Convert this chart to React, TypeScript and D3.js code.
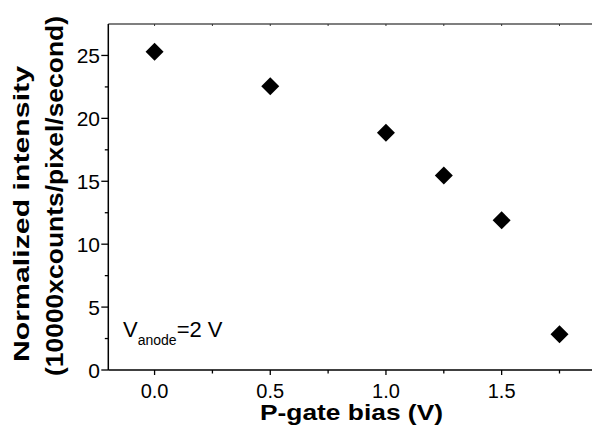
import React from "react";
import * as d3 from "d3";

const biasValues = [0, 0.5, 1.0, 1.25, 1.5, 1.75];
const intensityValues = [25.3, 22.55, 18.85, 15.45, 11.9, 2.85];
const xMajorTicks = [0, 0.5, 1.0, 1.5];
const xMinorTicks = [-0.25, 0.25, 0.75, 1.25, 1.75];
const yMajorTicks = [0, 5, 10, 15, 20, 25];
const yMinorTicks = [2.5, 7.5, 12.5, 17.5, 22.5];
const xTickLabels = ["0.0", "0.5", "1.0", "1.5"];
const yTickLabels = ["0", "5", "10", "15", "20", "25"];

const W = 592;
const H = 427;
const FONT = "'Liberation Sans', Arial, sans-serif";

export default function App() {
  const x = d3.scaleLinear().domain([-0.2, 1.9]).range([108.3, 594.2]);
  const y = d3.scaleLinear().domain([0, 27.5]).range([370, 24]);
  const marker = d3.symbol(d3.symbolSquare, 162)() as string;
  const [x0, x1] = x.range();
  const [yb, yt] = y.range();

  return (
    <svg width={W} height={H} style={{ position: "absolute", left: 0, top: 0, background: "#fff" }}>
      <rect x={0} y={0} width={W} height={H} fill="#fff" />
      {/* top frame */}
      <line x1={x0} x2={x1} y1={yt} y2={yt} stroke="#555" strokeWidth={1.4} />
      {[...xMajorTicks, ...xMinorTicks].filter(v => v >= -0.2).map((v, i) => (
        <line key={"tt" + i} x1={x(v)} x2={x(v)} y1={yt} y2={yt + 2} stroke="#333" strokeWidth={1} />
      ))}
      {/* bottom axis */}
      <line x1={x0} x2={x1} y1={yb} y2={yb} stroke="#000" strokeWidth={1.5} />
      {xMajorTicks.map((v, i) => (
        <line key={"xm" + i} x1={x(v)} x2={x(v)} y1={yb} y2={yb + 5} stroke="#000" strokeWidth={1.3} />
      ))}
      {xMinorTicks.filter(v => v >= -0.2).map((v, i) => (
        <line key={"xn" + i} x1={x(v)} x2={x(v)} y1={yb} y2={yb + 3.5} stroke="#000" strokeWidth={1.3} />
      ))}
      {xMajorTicks.map((v, i) => (
        <text key={"xl" + i} x={x(v)} y={398} textAnchor="middle" fontFamily={FONT} fontSize={20} fill="#000">
          {xTickLabels[i]}
        </text>
      ))}
      {/* left axis */}
      <line x1={x0} x2={x0} y1={yb} y2={yt} stroke="#000" strokeWidth={1.5} />
      {yMajorTicks.map((v, i) => (
        <line key={"ym" + i} x1={x0 - 7} x2={x0} y1={y(v)} y2={y(v)} stroke="#000" strokeWidth={1.3} />
      ))}
      {yMinorTicks.map((v, i) => (
        <line key={"yn" + i} x1={x0 - 3.5} x2={x0} y1={y(v)} y2={y(v)} stroke="#000" strokeWidth={1.3} />
      ))}
      {yMajorTicks.map((v, i) => (
        <text key={"yl" + i} x={100} y={y(v)} dy="0.36em" textAnchor="end" fontFamily={FONT} fontSize={21} fill="#000">
          {yTickLabels[i]}
        </text>
      ))}
      {/* markers */}
      {biasValues.map((b, i) => (
        <path key={"p" + i} d={marker} transform={`translate(${x(b)},${y(intensityValues[i])}) rotate(45)`} fill="#000" />
      ))}
      {/* annotation */}
      <text x={123} y={337} fontFamily={FONT} fontSize={22} fill="#000">
        V
        <tspan fontSize={14} dy={8}>anode</tspan>
        <tspan dy={-8}>=2 V</tspan>
      </text>
      {/* axis titles */}
      <text x={351.5} y={420} textAnchor="middle" fontFamily={FONT} fontSize={22} fontWeight="bold" fill="#000"
        textLength={183} lengthAdjust="spacingAndGlyphs">
        P-gate bias (V)
      </text>
      <text transform={`translate(29,214) rotate(-90)`} textAnchor="middle" fontFamily={FONT} fontSize={22.5} fontWeight="bold" fill="#000"
        textLength={296} lengthAdjust="spacingAndGlyphs">
        Normalized intensity
      </text>
      <text transform={`translate(63,196) rotate(-90)`} textAnchor="middle" fontFamily={FONT} fontSize={23.5} fontWeight="bold" fill="#000"
        textLength={360} lengthAdjust="spacingAndGlyphs">
        (10000xcounts/pixel/second)
      </text>
    </svg>
  );
}
